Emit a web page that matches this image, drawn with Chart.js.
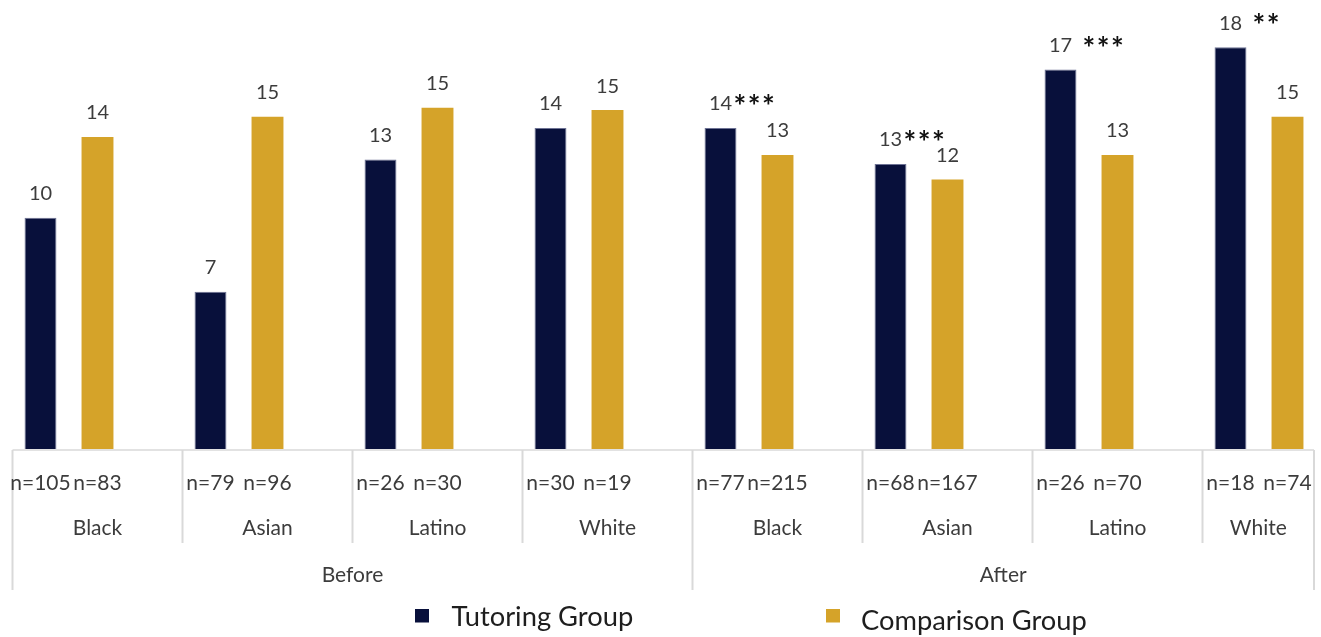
<!DOCTYPE html>
<html>
<head>
<meta charset="utf-8">
<script src="https://cdn.jsdelivr.net/npm/chart.js@4.4.1/dist/chart.umd.min.js"></script>
<style>
  html, body { margin: 0; padding: 0; overflow: hidden; background: #fff; }
  #frame { position: relative; width: 1321px; height: 637px; overflow: hidden; }
  #holder { position: absolute; left: -16px; top: 0; width: 1360px; height: 637px; }
</style>
</head>
<body>
<div id="frame"><div id="holder"><canvas id="mychart"></canvas></div></div>
<script>
const periods = ['Before', 'After'];
const groups = ['Black', 'Asian', 'Latino', 'White', 'Black', 'Asian', 'Latino', 'White'];
const seriesNames = ['Tutoring Group', 'Comparison Group'];
const tutoring = [10.3, 7.0, 12.9, 14.3, 14.3, 12.7, 16.9, 17.9];
const comparison = [13.9, 14.8, 15.2, 15.1, 13.1, 12.0, 13.1, 14.8];
const tutoringN = [105, 79, 26, 30, 77, 68, 26, 18];
const comparisonN = [83, 96, 30, 19, 215, 167, 70, 74];
const stars = ['', '', '', '', '***', '***', ' ***', ' **'];

const navy = '#08103b';
const gold = '#d5a329';
const FONT = 'Lato, "Open Sans", sans-serif';
const SHIFT = 16;          // canvas sits 16px left of the page
const PLOT_RIGHT = 1330;   // frame of the table stops here (canvas px)

// category table under the bars + axis line
const tablePlugin = {
  id: 'table',
  beforeDatasetsDraw(chart) {
    const ctx = chart.ctx;
    const xs = chart.scales.x;
    const base = chart.chartArea.bottom;
    const divs = groups.map((g, i) => xs.getPixelForValue(i) - 56.5);
    divs.push(PLOT_RIGHT);

    ctx.save();
    ctx.strokeStyle = '#d9d9d9';
    ctx.lineWidth = 1.5;
    ctx.beginPath();
    ctx.moveTo(divs[0], base + 1);
    ctx.lineTo(PLOT_RIGHT, base + 1);
    ctx.stroke();

    ctx.lineWidth = 2;
    divs.forEach((d, i) => {
      const long = (i % 4 === 0) || i === divs.length - 1;
      ctx.beginPath();
      ctx.moveTo(d, base + 1);
      ctx.lineTo(d, long ? 590 : 543);
      ctx.stroke();
    });

    ctx.fillStyle = '#3c3c3c';
    ctx.textAlign = 'center';
    ctx.textBaseline = 'alphabetic';
    ctx.font = '21px ' + FONT;
    const m0 = chart.getDatasetMeta(0), m1 = chart.getDatasetMeta(1);
    groups.forEach((g, i) => {
      ctx.fillText('n=' + tutoringN[i], m0.data[i].x, 489.5);
      ctx.fillText('n=' + comparisonN[i], m1.data[i].x, 489.5);
      ctx.fillText(g, (divs[i] + divs[i + 1]) / 2, 535);
    });
    periods.forEach((p, k) => {
      ctx.fillText(p, (divs[k * 4] + divs[k * 4 + 4]) / 2, 582);
    });
    ctx.restore();
  },
  afterDatasetsDraw(chart) {
    const ctx = chart.ctx;
    const values = [tutoring, comparison];
    ctx.save();
    ctx.textBaseline = 'alphabetic';
    values.forEach((vals, d) => {
      chart.getDatasetMeta(d).data.forEach((bar, i) => {
        const txt = String(Math.round(vals[i]));
        ctx.font = '20px ' + FONT;
        ctx.fillStyle = '#3c3c3c';
        ctx.textAlign = 'center';
        ctx.fillText(txt, bar.x, bar.y - 17.5);
        if (d === 0 && stars[i]) {
          const w = ctx.measureText(txt).width;
          ctx.font = 'bold 30px ' + FONT;
          ctx.fillStyle = '#111';
          ctx.textAlign = 'left';
          ctx.letterSpacing = '1.5px';
          ctx.fillText(stars[i], bar.x + w / 2 + 1.5, bar.y - 11);
          ctx.letterSpacing = '0px';
        }
      });
    });

    // legend
    const legend = [
      { color: navy, box: 415, text: 451.5, base: 625.5 },
      { color: gold, box: 826, text: 861, base: 630 }
    ];
    ctx.font = '27.3px ' + FONT;
    ctx.textAlign = 'left';
    legend.forEach((l, k) => {
      ctx.fillStyle = l.color;
      ctx.fillRect(l.box + SHIFT, 609, 14, 13.5);
      ctx.fillStyle = '#1e1e1e';
      ctx.fillText(seriesNames[k], l.text + SHIFT, l.base);
    });
    ctx.restore();
  }
};

function loadChart() {
  const ctx = document.querySelector('#mychart');
  new Chart(ctx, {
    type: 'bar',
    data: {
      labels: groups,
      datasets: [{
        label: seriesNames[0],
        data: tutoring,
        backgroundColor: navy,
        borderColor: '#6d7294',
        borderWidth: 1,
        categoryPercentage: 114 / 170,
        barPercentage: 0.56
      }, {
        label: seriesNames[1],
        data: comparison,
        backgroundColor: gold,
        borderWidth: 0,
        categoryPercentage: 114 / 170,
        barPercentage: 0.56
      }]
    },
    options: {
      responsive: true,
      maintainAspectRatio: false,
      animation: false,
      layout: { padding: { top: 0, bottom: 188, left: 0, right: 0 } },
      plugins: { legend: { display: false }, tooltip: { enabled: false } },
      scales: {
        x: { display: false },
        y: { display: false, min: 0, max: 20 }
      }
    },
    plugins: [tablePlugin]
  });
}

document.fonts.load('20px Lato').then(loadChart, loadChart);
</script>
</body>
</html>
